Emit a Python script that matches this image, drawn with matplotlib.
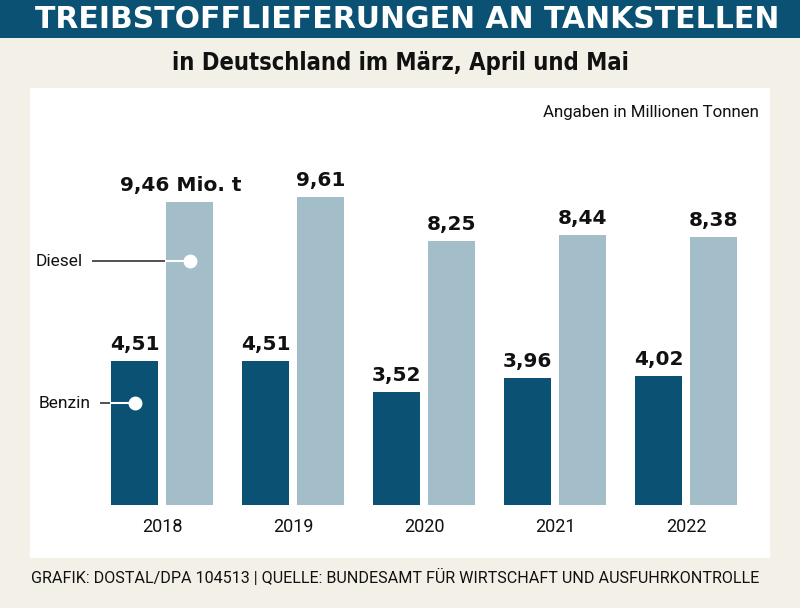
import matplotlib
matplotlib.use("Agg")
import matplotlib.pyplot as plt
from matplotlib.patches import Rectangle

years = ["2018", "2019", "2020", "2021", "2022"]
benzin = [4.51, 4.51, 3.52, 3.96, 4.02]
diesel = [9.46, 9.61, 8.25, 8.44, 8.38]
benzin_labels = ["4,51", "4,51", "3,52", "3,96", "4,02"]
diesel_labels = ["9,46 Mio. t", "9,61", "8,25", "8,44", "8,38"]

C_BENZIN = "#0a5174"
C_DIESEL = "#a3bec8"
C_HEADER = "#0b5173"
C_BG = "#f3f1e7"
REG = "Roboto"

W, H = 800, 608
fig = plt.figure(figsize=(W / 100, H / 100), dpi=100, facecolor=C_BG)

def fx(px):
    return px / W

def fy(py):
    return 1 - py / H

# header band
fig.patches.append(Rectangle((0, fy(38)), 1, 38 / H, transform=fig.transFigure,
                             facecolor=C_HEADER, edgecolor="none", zorder=-2))
fig.text(fx(407), fy(19), "TREIBSTOFFLIEFERUNGEN AN TANKSTELLEN", color="white",
         fontsize=21.5, fontweight="bold", family="DejaVu Sans", ha="center", va="center")
fig.text(fx(400), fy(63), "in Deutschland im März, April und Mai", color="#111111",
         fontsize=17, fontweight="bold", family="DejaVu Sans", fontstretch="condensed",
         ha="center", va="center")

# white panel
fig.patches.append(Rectangle((fx(30), fy(558)), fx(740), 470 / H, transform=fig.transFigure,
                             facecolor="white", edgecolor="none", zorder=-1))

ax = fig.add_axes([fx(30), fy(505), fx(740), (505 - 88) / H])
ax.set_facecolor("none")
ax.set_ylim(0, (505 - 88) / 32)
ax.set_xlim((30 - 162) / 131, (770 - 162) / 131)
ax.axis("off")

off = 27.5 / 131
bw = 47 / 131
xs = list(range(len(years)))
xb = [x - off for x in xs]
xd = [x + off for x in xs]
ax.bar(xb, benzin, width=bw, color=C_BENZIN, zorder=2)
ax.bar(xd, diesel, width=bw, color=C_DIESEL, zorder=2)

val_font = dict(fontsize=14.5, fontweight="bold", family="DejaVu Sans", color="#111111")
for i in xs:
    ax.annotate(benzin_labels[i], (xb[i], benzin[i]), xytext=(0, 7), textcoords="offset pixels",
                ha="center", va="bottom", **val_font)
    dx = -9 if i == 0 else 0
    ax.annotate(diesel_labels[i], (xd[i], diesel[i]), xytext=(dx, 7), textcoords="offset pixels",
                ha="center", va="bottom", **val_font)
    ax.annotate(years[i], (xs[i], 0), xytext=(0, -22), textcoords="offset pixels",
                ha="center", va="center", fontsize=13, family=REG,
                color="#111111", annotation_clip=False)

# legend callouts
lab_font = dict(fontsize=12.5, family=REG, color="#111111")
def callout(name, xc, yv, line_len, text_gap):
    left = xc - bw / 2
    ax.plot([left - line_len / 131, left], [yv, yv], color="#222222", lw=1.1,
            zorder=3, clip_on=False, solid_capstyle="butt")
    ax.plot([left, xc], [yv, yv], color="white", lw=1.5, zorder=3)
    ax.plot([xc], [yv], "o", color="white", ms=9, zorder=4)
    ax.annotate(name, (left - line_len / 131, yv), xytext=(-text_gap, 0),
                textcoords="offset pixels", ha="right", va="center",
                annotation_clip=False, **lab_font)

callout("Diesel", xd[0], (505 - 261) / 32, 74, 9)
callout("Benzin", xb[0], (505 - 403) / 32, 11, 9)

fig.text(fx(759), fy(112), "Angaben in Millionen Tonnen", ha="right", va="center",
         fontsize=12.2, family=REG, color="#111111")
fig.text(fx(31), fy(577),
         "GRAFIK: DOSTAL/DPA 104513 | QUELLE: BUNDESAMT FÜR WIRTSCHAFT UND AUSFUHRKONTROLLE",
         ha="left", va="center", fontsize=11.6, family=REG, color="#111111")

fig.savefig("out.png", dpi=100, facecolor=C_BG)
